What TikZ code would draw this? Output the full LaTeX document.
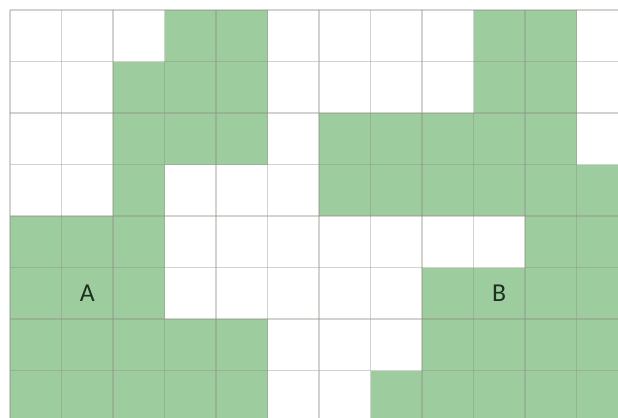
\documentclass[tikz,border=0pt]{standalone}
\usepackage{fontspec}
\setsansfont{Carlito}
\usetikzlibrary{positioning}
\definecolor{field}{HTML}{9DCC9F}
\definecolor{rule}{HTML}{8E8E84}
\definecolor{letter}{HTML}{1E301E}

\begin{document}
\begin{tikzpicture}[x=0.03cm,y=-0.03cm,font=\sffamily\fontsize{22}{26}\selectfont]
\useasboundingbox (0,0) rectangle (618,417);
\clip (0,0) rectangle (618,417);
% green cells, row by row
\foreach \r/\cols in {0/{3,4,9,10},1/{2,3,4,9,10},2/{2,3,4,6,7,8,9,10},3/{2,6,7,8,9,10,11},
  4/{0,1,2,10,11},5/{0,1,2,8,9,10,11},6/{0,1,2,3,4,8,9,10,11},7/{0,1,2,3,4,7,8,9,10,11}}
  \foreach \c in \cols {\fill[field] ({10+51.5*\c},{10+51.5*\r}) rectangle +(51.6,51.6);}
% grid
\foreach \i in {0,...,11} {\draw[rule,opacity=0.4,line width=1.4pt] ({10+51.5*\i},10) -- ({10+51.5*\i},420);}
\foreach \j in {0,...,7} {\draw[rule,opacity=0.4,line width=1.4pt] (10,{10+51.5*\j}) -- (620,{10+51.5*\j});}
% labels
\node[text=letter] (a) at ({10+51.5*1.5},{10+51.5*5.5}) {A};
\node[text=letter] (b) at ({10+51.5*9.5},{10+51.5*5.5}) {B};
\end{tikzpicture}
\end{document}
